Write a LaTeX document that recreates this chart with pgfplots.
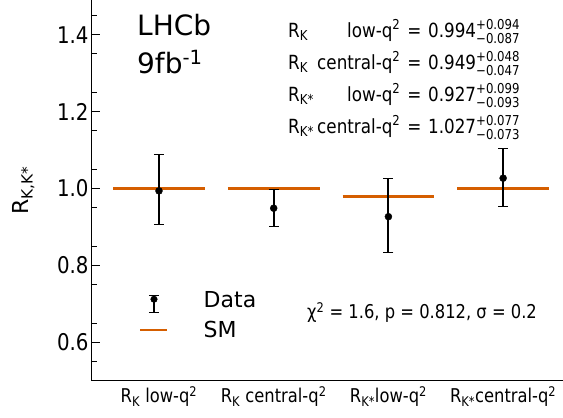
\documentclass[border=0pt]{standalone}
\usepackage{fontspec}
\setmainfont{DejaVu Sans}
\newfontfamily\condfont{DejaVu Sans}[FakeStretch=0.86]
\usepackage{amsmath}
\usepackage{pgfplots}
\pgfplotsset{compat=1.18}
\definecolor{smorange}{HTML}{D55E00}

\pgfplotstableread{
x y ep em
0 0.994 0.094 0.087
1 0.949 0.048 0.047
2 0.927 0.099 0.093
3 1.027 0.077 0.073
}\rdata

\newcommand\ud[2]{\ensuremath{^{\text{#1}}_{\text{#2}}}}

\begin{document}
\begin{tikzpicture}
\begin{axis}[
    name=ax,
    scale only axis, width=471pt, height=381pt,
    xmin=-0.584, xmax=3.522, ymin=0.5, ymax=1.49,
    axis x line*=bottom, axis y line*=left,
    axis line style={-, line width=1pt},
    xtick={0,1,2,3},
    xticklabels={R\textsubscript{K} low-q\textsuperscript{2},
                 R\textsubscript{K} central-q\textsuperscript{2},
                 R\textsubscript{K*}low-q\textsuperscript{2},
                 R\textsubscript{K*}central-q\textsuperscript{2}},
    x tick style={draw=none},
    xticklabel style={font=\condfont\fontsize{19}{19}\selectfont, yshift=-2pt},
    ytick={0.6,0.8,1.0,1.2,1.4},
    minor ytick={0.55,0.65,...,1.46},
    tick align=inside,
    y tick style={line width=0.8pt, black},
    major tick length=8pt, minor tick length=5pt,
    yticklabel style={/pgf/number format/fixed, /pgf/number format/fixed zerofill,
        /pgf/number format/precision=1, font=\condfont\fontsize{23}{23}\selectfont},
    /pgf/number format/assume math mode=true,
    ylabel={R\textsubscript{K,K*}},
    ylabel style={at={(axis description cs:-0.146,0.5)}, anchor=center,
        font=\fontsize{22}{22}\selectfont},
    unbounded coords=jump,
    legend style={draw=none, fill=none, at={(axis cs:-0.2,0.671)}, anchor=west,
        font=\fontsize{22}{22}\selectfont, row sep=6pt,
        /tikz/every odd column/.append style={column sep=33pt}},
    legend cell align=left,
    reverse legend,
]
\addplot[smorange, line width=2.5pt,
    legend image code/.code={\draw[smorange, line width=2.5pt] (0pt,0pt)--(27pt,0pt);}]
    coordinates {(-0.4,1) (0.4,1) (nan,nan) (0.6,1) (1.4,1) (nan,nan)
                 (1.6,0.98) (2.4,0.98) (nan,nan) (2.6,1) (3.4,1)};
\addlegendentry{SM}
\addplot[only marks, black, mark=*, mark size=3.5pt,
    error bars/.cd, y dir=both, y explicit,
    error bar style={line width=2pt, black},
    error mark options={rotate=90, mark size=5pt, line width=1.5pt, black},
    /pgfplots/legend image code/.code={
        \draw[black, line width=1.8pt] (13.5pt,-12pt)--(13.5pt,5pt);
        \draw[black, line width=1.4pt] (8.5pt,-12pt)--(18.5pt,-12pt);
        \draw[black, line width=1.4pt] (8.5pt,5pt)--(18.5pt,5pt);
        \fill[black] (13.5pt,1pt) circle (3.3pt);}]
    table[x=x, y=y, y error plus=ep, y error minus=em] {\rdata};
\addlegendentry{Data}

\node[anchor=base west, inner sep=0pt, font=\fontsize{28}{28}\selectfont]
    at (axis cs:-0.192,1.399) {LHCb};
\node[anchor=base west, inner sep=0pt, font=\fontsize{28}{28}\selectfont]
    at (axis cs:-0.192,1.300) {9fb\textsuperscript{-1}};

\node[anchor=north west, inner sep=0pt, font=\condfont\fontsize{19.5}{32}\selectfont]
    at (axis cs:1.125,1.452) {%
    \begin{tabular}{@{}l@{\,}r@{\hspace{0.35em}=\hspace{0.35em}}l@{}}
    R\textsubscript{K} & low-q\textsuperscript{2} & 0.994\ud{+0.094}{−0.087}\\
    R\textsubscript{K} & central-q\textsuperscript{2} & 0.949\ud{+0.048}{−0.047}\\
    R\textsubscript{K*} & low-q\textsuperscript{2} & 0.927\ud{+0.099}{−0.093}\\
    R\textsubscript{K*} & central-q\textsuperscript{2} & 1.027\ud{+0.077}{−0.073}
    \end{tabular}};

\node[anchor=west, inner sep=0pt, font=\condfont\fontsize{19}{20}\selectfont]
    at (axis cs:1.29,0.678) {χ\textsuperscript{2} = 1.6, p = 0.812, σ = 0.2};
\end{axis}
\pgfresetboundingbox
\path (ax.south west) ++(-92pt,-37pt) rectangle (ax.north east);
\end{tikzpicture}
\end{document}
